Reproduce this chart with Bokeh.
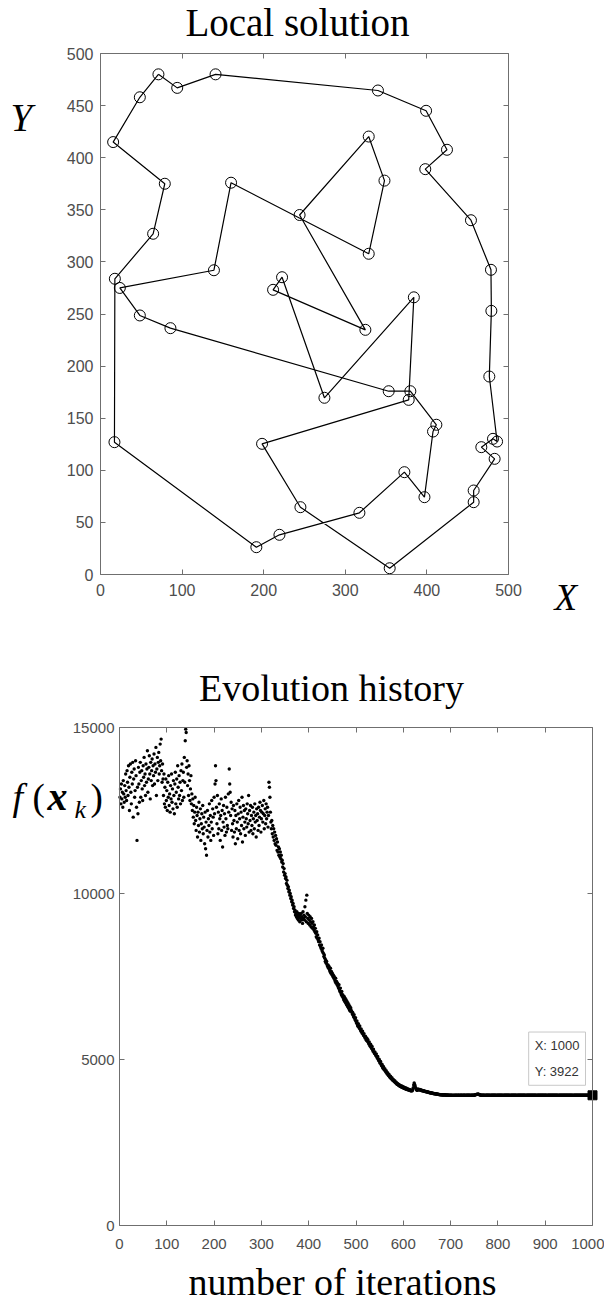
from bokeh.plotting import figure
from bokeh.models import Range1d, FixedTicker, LinearAxis, Label
from bokeh.layouts import column
from bokeh.embed import file_html
from bokeh.resources import INLINE

# ---------------- data: "Local solution" (tour through 50 cities, in visiting order) -------------
tour_x = [71, 94, 141, 340, 399, 424.6, 398, 454, 478.5, 479, 476.5, 486, 481, 466.7, 483,
          457.3, 457.3, 354.4, 245, 198, 377.7, 384, 274.4, 222.5, 211.5, 324.6, 244, 328.7,
          348, 328.7, 160, 139, 23.7, 48.2, 85.7, 353.2, 379.7, 411.6, 407.5, 397, 372.4,
          317.3, 219.3, 191, 17.1, 17.6, 64.5, 78.8, 15.5, 48.2]
tour_y = [480, 467, 480, 464.5, 445, 407.6, 389, 340, 292.4, 253, 190, 127.6, 130.2, 122.2, 111,
          80.6, 69.4, 6, 64.6, 125.4, 167.6, 266, 169.6, 285.3, 273.2, 234.8, 345, 420.3,
          378, 307.8, 376, 292, 275, 248.6, 236.4, 175.9, 175.9, 143.7, 137.2, 74.2, 98.2,
          59.2, 38.1, 26.2, 127, 283.8, 327, 375, 415, 458]
top_x_ticks = [0, 100, 200, 300, 400, 500]
top_y_ticks = [0, 50, 100, 150, 200, 250, 300, 350, 400, 450, 500]

# ---------------- data: "Evolution history" (objective value per iteration) ----------------------
f_values = [
    12900, 13150, 12700, 13300, 12850, 13050, 12600, 13400, 13000, 12750,
    13250, 12900, 13600, 13100, 12800, 13700, 13350, 12950, 13850, 13200,
    12500, 13500, 13900, 13050, 12700, 13650, 13300, 13950, 12300, 13450,
    13750, 12900, 13100, 14000, 13550, 12600, 11600, 13200, 12400, 13800,
    13300, 12750, 13650, 13950, 12900, 13400, 13700, 13150, 12800, 13850,
    13500, 14100, 13250, 13600, 12950, 13900, 13350, 13750, 14300, 13050,
    13450, 13800, 14150, 13600, 12850, 13950, 13400, 13700, 14050, 13250,
    13850, 13550, 14200, 13300, 13900, 13650, 14400, 12950, 13750, 14100,
    13400, 13950, 14250, 13600, 13850, 14500, 14000, 14650, 13700, 13350,
    13900, 13450, 12950, 13600, 12700, 13200, 12600, 13450, 12800, 13100,
    12500, 13350, 12900, 13550, 12650, 13000, 12450, 13250, 12850, 13600,
    12750, 13150, 12550, 13400, 12950, 12400, 13300, 13650, 12700, 13050,
    13450, 12600, 13850, 13200, 12850, 13550, 12950, 13350, 12700, 13700,
    13100, 13900, 12800, 13400, 13650, 12900, 14100, 13350, 14600, 14950,
    14850, 13800, 14000, 13250, 13600, 12950, 13850, 13400, 12800, 13150,
    13550, 12700, 13000, 12500, 12850, 12300, 12650, 12100, 12450, 12900,
    12200, 11900, 12600, 12350, 11700, 12450, 12050, 12750, 11850, 12250,
    12550, 11600, 12100, 12400, 11950, 12650, 11800, 12300, 12000, 11500,
    12450, 11350, 12150, 11150, 11900, 12500, 11700, 12250, 12050, 12700,
    11850, 12350, 11600, 12150, 12800, 11950, 12550, 12300, 11750, 12900,
    12400, 13300, 13850, 13400, 12600, 12100, 12950, 11800, 12450, 11950,
    12700, 12250, 11600, 12350, 12850, 11900, 12500, 11400, 12150, 12650,
    12000, 12400, 11750, 12900, 12250, 11850, 12600, 12050, 11950, 13000,
    12450, 13750, 13300, 13050, 12350, 12750, 11900, 12550, 12100, 11700,
    12650, 12200, 11850, 12500, 11500, 12350, 11950, 12700, 12150, 11650,
    12400, 12800, 11900, 12250, 12600, 11800, 12450, 12050, 12900, 11550,
    12300, 12650, 11950, 12500, 12150, 11750, 12550, 12250, 12000, 12700,
    12400, 12100, 12950, 11850, 12500, 12200, 12650, 11900, 12350, 12050,
    12600, 11800, 12250, 12450, 11950, 12700, 12150, 12350, 11700, 12550,
    12200, 12400, 11900, 12600, 12050, 12300, 12750, 12500, 11850, 12250,
    12450, 12650, 12150, 12400, 12800, 11950, 12350, 12550, 12100, 12700,
    12250, 12450, 12600, 12000, 12350, 13350, 13200, 12900, 12450, 12150,
    11950, 12200, 11800, 12050, 11700, 11950, 11600, 11850, 11500, 11750,
    11450, 11650, 11300, 11550, 11250, 11400, 11150, 11350, 11100, 11250,
    11050, 11150, 10950, 11000, 10800, 10900, 10650, 10750, 10550, 10600,
    10450, 10500, 10300, 10400, 10250, 10150, 10200, 10050, 10100, 9950,
    10000, 9850, 9900, 9750, 9800, 9650, 9700, 9550, 9600, 9450,
    9500, 9350, 9400, 9300, 9450, 9250, 9350, 9200, 9400, 9300,
    9150, 9350, 9250, 9400, 9200, 9300, 9100, 9450, 9250, 9350,
    9200, 9600, 9300, 9800, 9150, 9950, 9400, 9250, 9100, 9350,
    9200, 9050, 9300, 9150, 9000, 9250, 9100, 8950, 9150, 9000,
    8900, 9050, 8850, 8950, 8800, 8700, 8850, 8650, 8750, 8600,
    8550, 8650, 8450, 8550, 8400, 8350, 8450, 8300, 8250, 8350,
    8200, 8100, 8150, 8050, 7950, 8000, 7900, 7950, 7850, 7800,
    7850, 7750, 7800, 7700, 7650, 7750, 7600, 7650, 7550, 7600,
    7500, 7550, 7450, 7500, 7400, 7350, 7450, 7300, 7350, 7250,
    7300, 7200, 7150, 7250, 7100, 7050, 7150, 7000, 6950, 7050,
    6900, 6950, 6850, 6800, 6900, 6750, 6850, 6700, 6800, 6650,
    6750, 6600, 6700, 6550, 6650, 6500, 6600, 6450, 6550, 6480,
    6450, 6380, 6420, 6330, 6280, 6350, 6250, 6200, 6260, 6150,
    6100, 6160, 6050, 6000, 6080, 5980, 5940, 6010, 5900, 5860,
    5920, 5830, 5790, 5850, 5760, 5720, 5780, 5690, 5650, 5700,
    5620, 5580, 5640, 5550, 5600, 5510, 5470, 5530, 5440, 5400,
    5460, 5370, 5330, 5390, 5290, 5250, 5310, 5220, 5180, 5230,
    5150, 5110, 5170, 5080, 5040, 5090, 5000, 4960, 5010, 4930,
    4890, 4940, 4850, 4810, 4860, 4780, 4740, 4790, 4710, 4680,
    4720, 4650, 4620, 4660, 4590, 4560, 4600, 4530, 4510, 4550,
    4480, 4460, 4500, 4430, 4410, 4450, 4390, 4370, 4400, 4350,
    4330, 4360, 4310, 4290, 4320, 4270, 4250, 4280, 4240, 4220,
    4250, 4210, 4190, 4220, 4180, 4170, 4200, 4160, 4150, 4180,
    4140, 4130, 4160, 4120, 4110, 4140, 4100, 4120, 4090, 4110,
    4080, 4100, 4070, 4090, 4060, 4080, 4050, 4070, 4060, 4090,
    4150, 4230, 4290, 4250, 4200, 4150, 4110, 4090, 4070, 4080,
    4110, 4090, 4100, 4080, 4100, 4090, 4070, 4080, 4060, 4070,
    4060, 4050, 4060, 4040, 4050, 4040, 4030, 4040, 4030, 4020,
    4030, 4010, 4020, 4010, 4000, 4010, 3990, 4000, 3990, 3990,
    3980, 3990, 3980, 3970, 3980, 3970, 3970, 3960, 3970, 3960,
    3960, 3950, 3960, 3950, 3950, 3940, 3950, 3940, 3940, 3940,
    3940, 3930, 3940, 3930, 3930, 3930, 3940, 3930, 3930, 3930,
    3930, 3920, 3930, 3930, 3920, 3930, 3920, 3920, 3930, 3920,
    3920, 3930, 3920, 3920, 3925, 3920, 3922, 3925, 3920, 3922,
    3922, 3925, 3922, 3920, 3922,
    3922, 3925, 3922, 3920, 3922, 3922, 3925, 3922, 3922, 3920, 3922, 3922, 3922, 3925, 3922, 3922, 3920, 3922, 3922, 3922,
    3922, 3922, 3925, 3922, 3922, 3922, 3920, 3922, 3922, 3922, 3925, 3922, 3922, 3922, 3922, 3930, 3935, 3940, 3945, 3950,
    3955, 3950, 3960, 3955, 3945, 3940, 3935, 3930, 3928, 3925, 3922, 3922, 3922, 3925, 3922, 3922, 3922, 3920, 3922, 3922,
    3922, 3922, 3922, 3925, 3922, 3922, 3922, 3922, 3920, 3922, 3922, 3922, 3922, 3922, 3925, 3922, 3922, 3922, 3922, 3922,
    3922, 3920, 3922, 3922, 3922, 3922, 3922, 3922, 3925, 3922, 3922, 3922, 3922, 3922, 3922, 3920, 3922, 3922, 3922, 3922,
    3922, 3922, 3925, 3922, 3922, 3922, 3922, 3922, 3922, 3922, 3920, 3922, 3922, 3922, 3922, 3922, 3922, 3925, 3922, 3922,
    3922, 3922, 3922, 3922, 3920, 3922, 3922, 3922, 3922, 3922, 3922, 3922, 3922, 3925, 3922, 3922, 3922, 3922, 3922, 3922,
    3922, 3922, 3922, 3920, 3922, 3922, 3922, 3922, 3922, 3922, 3922, 3925, 3922, 3922, 3922, 3922, 3922, 3922, 3922, 3922,
    3922, 3922, 3922, 3922, 3922, 3922, 3920, 3922, 3922, 3922, 3922, 3922, 3922, 3922, 3922, 3922, 3922, 3925, 3922, 3922,
    3922, 3922, 3922, 3922, 3922, 3922, 3922, 3922, 3920, 3922, 3922, 3922, 3922, 3922, 3922, 3922, 3922, 3922, 3922, 3922,
    3922, 3925, 3922, 3922, 3922, 3922, 3922, 3922, 3922, 3922, 3922, 3922, 3920, 3922, 3922, 3922, 3922, 3922, 3922, 3922,
    3922, 3922, 3922, 3922, 3922, 3922, 3922, 3922, 3922, 3925, 3922, 3922, 3922, 3922, 3922, 3922, 3922, 3922, 3922, 3922,
    3922, 3922, 3922, 3920, 3922, 3922, 3922, 3922, 3922, 3922, 3922, 3922, 3922, 3922, 3922, 3922, 3922, 3922, 3922, 3922,
    3922, 3922, 3922, 3922, 3922, 3922, 3922, 3922, 3922, 3922, 3922, 3922, 3922, 3922, 3922, 3922, 3922, 3922, 3922, 3922,
    3922, 3922, 3922, 3922, 3922,
]
iterations = list(range(1, len(f_values) + 1))
bot_x_ticks = [0, 100, 200, 300, 400, 500, 600, 700, 800, 900, 1000]
bot_y_ticks = [0, 5000, 10000, 15000]

# ---------------- style ----------------
AXIS = "#6f6f6f"
TICKLAB = "#4d4d4d"
SERIF = "Liberation Serif"
SANS = "Liberation Sans"
W = 604
H_TOTAL = 1303
BASE_SHIFT = 0.38   # Label anchor sits this fraction of the font size above the baseline


def make_fig(height, xt, yt, left, right, top, bottom):
    """Figure whose frame fills the canvas; the chart box sits at the given pixel edges."""
    sx = (xt[-1] - xt[0]) / (right - left)
    sy = (yt[-1] - yt[0]) / (bottom - top)
    p = figure(width=W, height=height, output_backend="svg", toolbar_location=None,
               x_range=Range1d(xt[0] - left * sx, xt[-1] + (W - right) * sx),
               y_range=Range1d(yt[0] - (height - bottom) * sy, yt[-1] + top * sy),
               x_axis_location=None, y_axis_location=None,
               min_border=0, min_border_left=0, min_border_right=0,
               min_border_top=0, min_border_bottom=0)
    p.grid.visible = False
    p.outline_line_color = None
    p.background_fill_color = "white"
    p.border_fill_color = "white"
    return p


def add_axes(p, xt, yt, fs, x_stand, y_stand):
    specs = [("below", xt, yt[0], True, x_stand),
             ("left", yt, xt[0], True, y_stand),
             ("above", xt, yt[-1], False, 0),
             ("right", yt, xt[-1], False, 0)]
    for side, ticks, loc, show, stand in specs:
        ax = LinearAxis(fixed_location=loc, bounds=(ticks[0], ticks[-1]),
                        ticker=FixedTicker(ticks=ticks),
                        major_tick_in=5, major_tick_out=0,
                        minor_tick_line_color=None,
                        axis_line_color=AXIS, axis_line_width=1,
                        major_tick_line_color=AXIS,
                        major_label_standoff=stand,
                        major_label_text_font=SANS,
                        major_label_text_font_size=fs if show else "1px",
                        major_label_text_color=TICKLAB if show else None)
        p.add_layout(ax, side)


def add_text(p, conv, px, py, text, font, size_px, style_="normal", align="left"):
    x, y = conv(px, py - BASE_SHIFT * size_px)
    p.add_layout(Label(x=x, y=y, text=text, text_font=font,
                       text_font_size=f"{size_px}px", text_font_style=style_,
                       text_color="black", text_align=align,
                       text_baseline="alphabetic"))


# ================= top chart: Local solution =================
H1 = 640
L1, R1, T1, B1 = 100, 508, 53, 574  # chart box edges, page pixels
p1 = make_fig(H1, top_x_ticks, top_y_ticks, L1, R1, T1, B1)
add_axes(p1, top_x_ticks, top_y_ticks, "16px", 9, 7)

p1.line(tour_x + tour_x[:1], tour_y + tour_y[:1], line_color="black", line_width=1.2)
p1.scatter(tour_x, tour_y, marker="circle", size=11, fill_color=None,
           line_color="black", line_width=1)


def d1(px, py):
    return (top_x_ticks[0] + (px - L1) / (R1 - L1) * (top_x_ticks[-1] - top_x_ticks[0]),
            top_y_ticks[0] + (B1 - py) / (B1 - T1) * (top_y_ticks[-1] - top_y_ticks[0]))


add_text(p1, d1, 297, 37, "Local solution", SERIF, 39, align="center")
add_text(p1, d1, 10, 132, "Y", SERIF, 39, "italic")
add_text(p1, d1, 554, 611, "X", SERIF, 37, "italic")

# ================= bottom chart: Evolution history =================
H2 = H_TOTAL - H1
L2, R2, T2, B2 = 119, 592, 727, 1225  # page pixels
p2 = make_fig(H2, bot_x_ticks, bot_y_ticks, L2, R2, T2 - H1, B2 - H1)
add_axes(p2, bot_x_ticks, bot_y_ticks, "15px", 13, 5)

p2.scatter(iterations, f_values, marker="circle", size=3.4, fill_color="black",
           line_color=None)
p2.scatter([iterations[-1]], [f_values[-1]], marker="square", size=9,
           fill_color="black", line_color="black")

p2.add_layout(Label(x=iterations[-1], y=f_values[-1], anchor="bottom_right",
                    x_offset=-7, y_offset=10,
                    text=f"X: {iterations[-1]}\nY: {f_values[-1]}",
                    text_font=SANS, text_font_size="13px", text_color="#333333",
                    text_line_height=1.75, padding=6,
                    background_fill_color="white", border_line_color="#c8c8c8",
                    border_line_width=1))


def d2(px, py):
    return (bot_x_ticks[0] + (px - L2) / (R2 - L2) * (bot_x_ticks[-1] - bot_x_ticks[0]),
            bot_y_ticks[0] + (B2 - py) / (B2 - T2) * (bot_y_ticks[-1] - bot_y_ticks[0]))


add_text(p2, d2, 331, 702, "Evolution history", SERIF, 38, align="center")
add_text(p2, d2, 188, 1296, "number of iterations", SERIF, 38)
add_text(p2, d2, 12, 811, "f", SERIF, 38, "italic")
add_text(p2, d2, 32, 811, "(", SERIF, 37)
add_text(p2, d2, 47, 811, "x", SERIF, 40, "bold italic")
add_text(p2, d2, 74, 819, "k", SERIF, 26, "italic")
add_text(p2, d2, 90, 811, ")", SERIF, 37)

page = column(p1, p2)
open("out.html", "w").write(file_html(page, INLINE))
